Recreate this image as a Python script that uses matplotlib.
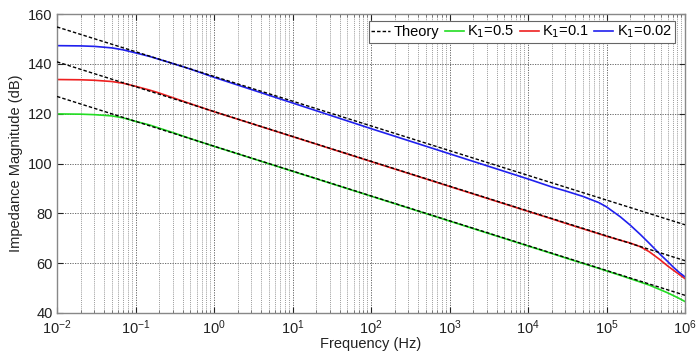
import numpy as np
import matplotlib
matplotlib.use('Agg')
import matplotlib.pyplot as plt
from matplotlib.ticker import LogLocator, NullFormatter

plt.rcParams['font.family'] = ['Liberation Sans', 'DejaVu Sans']

# Frequency points (Hz) for the measured curves
freq = [1e-2, 2e-2, 3e-2, 5e-2, 7e-2, 1e-1, 1.5e-1, 2e-1, 3e-1, 5e-1,
        1e0, 1e1, 1e2, 1e3, 1e4, 2e4, 3e4, 5e4, 8e4, 1e5, 1.5e5, 2e5,
        2.7e5, 3.5e5, 4.8e5, 6e5, 7.1e5, 8.5e5, 1e6]

# Impedance magnitude (dB) for each K1
k1_002 = [147.3, 147.2, 147.0, 146.4, 145.6, 144.4, 143.0, 141.8, 140.1, 137.9,
          134.6, 124.3, 114.0, 103.9, 93.8, 90.6, 89.0, 86.8, 84.3, 82.6, 78.6, 75.3,
          71.5, 68.0, 63.6, 60.7, 58.4, 56.2, 54.5]
k1_01 = [133.7, 133.6, 133.4, 132.9, 132.2, 131.0, 129.5, 128.3, 126.4, 124.0,
         120.8, 110.8, 100.8, 90.8, 80.8, 77.8, 76.0, 73.8, 71.8, 70.8, 69.2, 68.1,
         66.6, 64.6, 61.4, 58.9, 57.2, 55.4, 53.8]
k1_05 = [119.9, 119.8, 119.6, 119.1, 118.3, 116.9, 115.5, 114.2, 112.4, 110.0,
         106.9, 96.9, 86.9, 76.9, 66.9, 63.9, 62.1, 59.9, 57.9, 56.9, 55.1, 53.8,
         52.4, 51.2, 49.4, 48.1, 47.0, 45.8, 44.6]

# Theoretical straight lines (end points)
theory_f = [1e-2, 1e6]
theory_002 = [154.8, 75.4]
theory_01 = [140.8, 61.0]
theory_05 = [126.9, 47.1]

xticks = [1e-2, 1e-1, 1e0, 1e1, 1e2, 1e3, 1e4, 1e5, 1e6]
yticks = [40, 60, 80, 100, 120, 140, 160]

fig = plt.figure(figsize=(6.96, 3.6), dpi=100)
ax = fig.add_axes([57 / 696, 1 - 313 / 360, 628 / 696, 299 / 360])

h_g, = ax.semilogx(freq, k1_05, color='#22dd22', lw=1.2, label='K$_1$=0.5')
h_r, = ax.semilogx(freq, k1_01, color='#ee2020', lw=1.2, label='K$_1$=0.1')
h_b, = ax.semilogx(freq, k1_002, color='#2020ee', lw=1.2, label='K$_1$=0.02')
h_t = None
for th in (theory_002, theory_01, theory_05):
    h_t, = ax.semilogx(theory_f, th, color='black', lw=1.0, ls=(0, (2.5, 1.5)),
                       zorder=3, label='Theory')

ax.set_xlim(1e-2, 1e6)
ax.set_ylim(40, 160)
ax.set_xticks(xticks)
ax.set_yticks(yticks)
ax.xaxis.set_minor_locator(LogLocator(base=10, subs=np.arange(2, 10), numticks=20))
ax.xaxis.set_minor_formatter(NullFormatter())

ax.grid(True, which='major', color='#555555', ls=(0, (1.5, 1.5)), lw=0.6)
ax.grid(True, which='minor', axis='x', color='#777777', ls=(0, (1.5, 1.5)), lw=0.5)

ax.tick_params(which='both', direction='in', top=True, right=True, color='#666666')
ax.tick_params(which='major', length=4, labelsize=10.5, colors='#222222', pad=3)
ax.tick_params(axis='x', which='major', pad=4)
ax.tick_params(which='minor', length=2)
for s in ax.spines.values():
    s.set_color('#888888')
    s.set_linewidth(1.0)

ax.set_xlabel('Frequency (Hz)', fontsize=10.5, color='#222222', labelpad=0)
ax.set_ylabel('Impedance Magnitude (dB)', fontsize=10.5, color='#222222', labelpad=4)

leg = ax.legend(handles=[h_t, h_g, h_r, h_b], loc='upper right', ncol=4,
                fontsize=10.5, handlelength=1.3, handletextpad=0.25,
                columnspacing=0.35, borderpad=0.2, borderaxespad=0, fancybox=False,
                framealpha=1, edgecolor='#666666', bbox_to_anchor=(0.984, 0.977))
leg.get_frame().set_linewidth(0.8)

fig.savefig('out.png', dpi=100)
